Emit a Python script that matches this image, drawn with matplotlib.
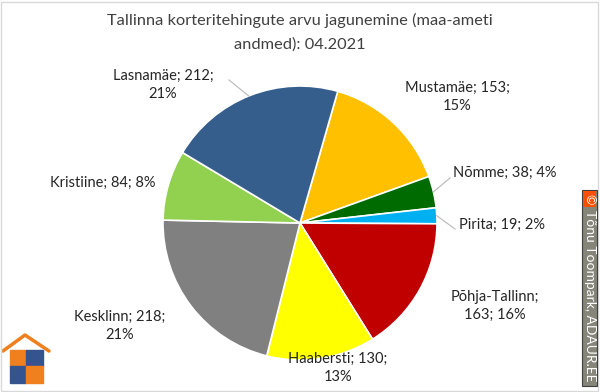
import numpy as np
import matplotlib
matplotlib.use('Agg')
import matplotlib.pyplot as plt
from matplotlib.patches import Rectangle

plt.rcParams['font.family'] = ['Lato', 'DejaVu Sans']

districts = ['Mustamäe', 'Nõmme', 'Pirita', 'Põhja-Tallinn', 'Haabersti',
             'Kesklinn', 'Kristiine', 'Lasnamäe']
deals = [153, 38, 19, 163, 130, 218, 84, 212]
colors = ['#FFC000', '#006B00', '#00B0F0', '#C00000', '#FFFF00',
          '#808080', '#92D050', '#355E8D']

# label centre (px, y from top), alignment, where the line breaks
label_pos = [(457, 97, 'center', 2),
             (453, 173, 'left', 0),
             (459, 225, 'left', 0),
             (495, 306, 'center', 1),
             (338, 368, 'center', 2),
             (120, 326, 'center', 2),
             (103, 183, 'center', 0),
             (163, 85, 'center', 2)]

W, H = 600, 392
fig = plt.figure(figsize=(6, 3.92), dpi=100)
ax = fig.add_axes([0, 0, 1, 1])
ax.axis('off')

cx, cy, r = 300, H - 223, 137
wedges, _ = ax.pie(deals, colors=colors, startangle=74, counterclock=False,
                   center=(cx, cy), radius=r,
                   wedgeprops=dict(edgecolor='white', linewidth=1.2))
ax.set_xlim(0, W)
ax.set_ylim(0, H)
ax.set_aspect('equal')

total = float(sum(deals))
for i, w in enumerate(wedges):
    pct = int(round(100 * deals[i] / total))
    x, y, ha, br = label_pos[i]
    parts = ['%s;' % districts[i], '%d;' % deals[i], '%d%%' % pct]
    if br == 0:
        txt = ' '.join(parts)
    else:
        txt = ' '.join(parts[:br]) + '\n' + ' '.join(parts[br:])
    ax.text(x, H - y, txt, ha=ha, va='center', fontsize=10.5,
            color='#262626', linespacing=1.35)

# leader lines: (slice, angle on rim, label end)
for i, ang, end in [(1, None, (450, 178)), (2, None, (455, 229)), (7, 112, (229, 80))]:
    w = wedges[i]
    if ang is None:
        ang = (w.theta1 + w.theta2) / 2
    a = np.deg2rad(ang)
    sx, sy = cx + r * np.cos(a), cy + r * np.sin(a)
    ax.plot([sx, end[0]], [sy, H - end[1]], color='#BFBFBF', lw=0.9)

fig.text(0.5, 1 - 20 / H, 'Tallinna korteritehingute arvu jagunemine (maa-ameti',
         ha='center', va='center', fontsize=11.8, color='#404040')
fig.text(0.5, 1 - 45 / H, 'andmed): 04.2021',
         ha='center', va='center', fontsize=11.8, color='#404040')

# frame
fig.patches.append(Rectangle((1 / W, 1 / H), 1 - 3 / W, 1 - 3 / H,
                             transform=fig.transFigure, fill=False,
                             edgecolor='#D9D9D9', lw=1))

# copyright strip
fig.patches.append(Rectangle((582 / W, 1 - 386 / H), 15 / W, 196 / H,
                             transform=fig.transFigure, facecolor='#85857A',
                             edgecolor='#404040', lw=0.8))
fig.patches.append(Rectangle((583 / W, 1 - 207 / H), 13 / W, 16 / H,
                             transform=fig.transFigure, facecolor='#FF5000',
                             edgecolor='none'))
fig.text(589.5 / W, 1 - 199 / H, '©', rotation=270, ha='center', va='center',
         fontsize=9, color='white')
fig.text(589.5 / W, 1 - 296 / H, 'Tõnu Toompark, ADAUR.EE', rotation=270,
         ha='center', va='center', fontsize=10, color='white')

# logo
lg = fig.add_axes([0, 0, 60 / W, 72 / H])
lg.set_xlim(0, 60)
lg.set_ylim(72, 0)
lg.axis('off')
lg.plot([3, 25, 49], [31, 15, 31], color='#F07F1E', lw=2.5, solid_capstyle='round')
lg.add_patch(Rectangle((10, 30), 16, 16, color='#F07F1E'))
lg.add_patch(Rectangle((26, 30), 17, 16, color='#35538F'))
lg.add_patch(Rectangle((10, 46), 16, 17, color='#35538F'))
lg.add_patch(Rectangle((26, 46), 17, 17, color='#F07F1E'))

fig.savefig('out.png', dpi=100)
